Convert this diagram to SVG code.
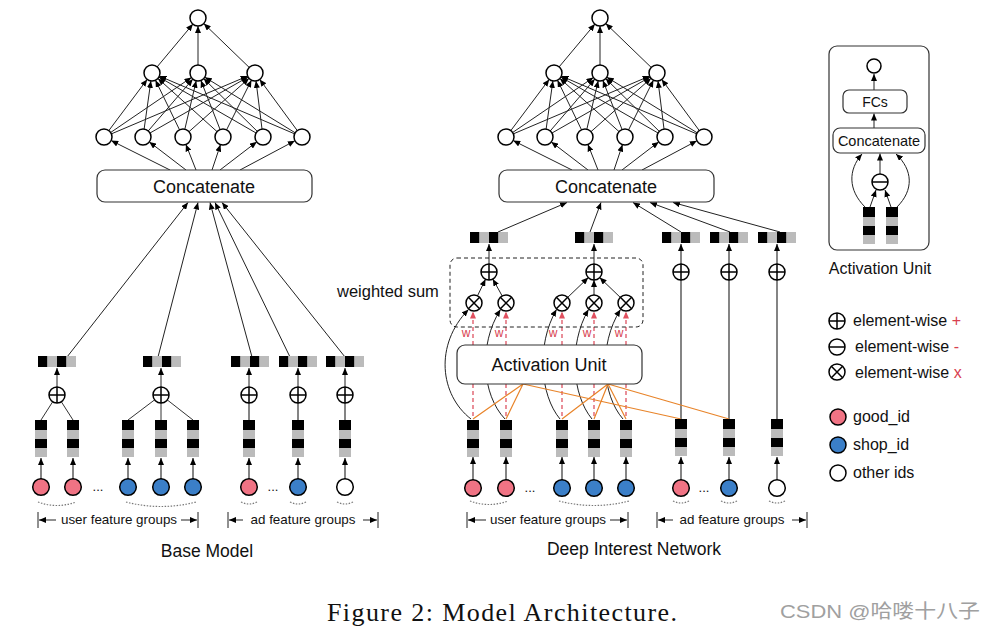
<svg xmlns="http://www.w3.org/2000/svg" xmlns:xlink="http://www.w3.org/1999/xlink" width="995" height="631" viewBox="0 0 995 631">
<style>
text{font-family:"Liberation Sans",Arial,sans-serif;fill:#111}
.n{fill:#fff;stroke:#000;stroke-width:1.5}
.op{stroke:#000;stroke-width:1.5;fill:none}
.e{stroke:#222;stroke-width:1;fill:none;marker-end:url(#a)}
.eg{stroke:#666;stroke-width:1.6;fill:none}
.ega{stroke:#666;stroke-width:1.6;fill:none;marker-end:url(#a)}
.box{fill:#fff;stroke:#333;stroke-width:1.2}
.red{stroke:#e0606e;stroke-width:1.4;stroke-dasharray:4 3;fill:none}
.redA{stroke:#e0606e;stroke-width:1.4;stroke-dasharray:4 3;fill:none;marker-end:url(#ar)}
.or{stroke:#e8842a;stroke-width:1.2;fill:none}
.dot{stroke:#777;stroke-width:1.2;stroke-dasharray:1.5 1.5;fill:none}
.pk{fill:#f07384;stroke:#000;stroke-width:1.5}
.bl{fill:#3b7fc8;stroke:#000;stroke-width:1.5}
.wh{fill:#fff;stroke:#000;stroke-width:1.5}
.brk{stroke:#222;stroke-width:1;fill:none}
.brkA{stroke:#222;stroke-width:1;fill:none;marker-end:url(#a)}
</style>
<defs>
<marker id="a" viewBox="0 0 10 10" refX="10" refY="5" markerWidth="7" markerHeight="6" markerUnits="userSpaceOnUse" orient="auto" preserveAspectRatio="none"><path d="M0,0L10,5L0,10z" fill="#000"/></marker>
<marker id="ar" viewBox="0 0 10 10" refX="10" refY="5" markerWidth="7" markerHeight="6" markerUnits="userSpaceOnUse" orient="auto" preserveAspectRatio="none"><path d="M0,0L10,5L0,10z" fill="#e0505f"/></marker>
<g id="ve"><rect width="12" height="10" fill="#000"/><rect y="10" width="12" height="9" fill="#bbb"/><rect y="19" width="12" height="9" fill="#000"/><rect y="28" width="12" height="9" fill="#bbb"/></g>
<g id="he"><rect width="9.5" height="11" fill="#000"/><rect x="9.5" width="9.5" height="11" fill="#bbb"/><rect x="19" width="9.5" height="11" fill="#000"/><rect x="28.5" width="9.5" height="11" fill="#bbb"/></g>
<g id="plus"><circle r="8" class="n"/><path d="M-8,0H8M0,-8V8" class="op"/></g>
<g id="times"><circle r="8" class="n"/><path d="M-5.66,-5.66L5.66,5.66M5.66,-5.66L-5.66,5.66" class="op"/></g>
<g id="minus"><circle r="8" class="n"/><path d="M-8,0H8" class="op"/></g>
</defs>
<rect width="995" height="631" fill="#fff"/>

<!-- ================= CONNECTORS ================= -->
<g id="connectors">
 <g id="base-mlp-edges">
  <line class="e" x1="104" y1="137" x2="147.2" y2="79.4"/>
  <line class="e" x1="143" y1="137" x2="150.9" y2="80.9"/>
  <line class="e" x1="183" y1="137" x2="155.5" y2="80.2"/>
  <line class="e" x1="223" y1="137" x2="157.9" y2="78.4"/>
  <line class="e" x1="263" y1="137" x2="158.9" y2="77"/>
  <line class="e" x1="302" y1="137" x2="159.4" y2="76.1"/>
  <line class="e" x1="104" y1="137" x2="191.4" y2="77.5"/>
  <line class="e" x1="143" y1="137" x2="192.8" y2="79.1"/>
  <line class="e" x1="183" y1="137" x2="196.2" y2="80.8"/>
  <line class="e" x1="223" y1="137" x2="200.9" y2="80.5"/>
  <line class="e" x1="263" y1="137" x2="203.7" y2="78.6"/>
  <line class="e" x1="302" y1="137" x2="204.8" y2="77.2"/>
  <line class="e" x1="104" y1="137" x2="247.6" y2="76.1"/>
  <line class="e" x1="143" y1="137" x2="248.1" y2="77"/>
  <line class="e" x1="183" y1="137" x2="249" y2="78.3"/>
  <line class="e" x1="223" y1="137" x2="251.4" y2="80.2"/>
  <line class="e" x1="263" y1="137" x2="256" y2="80.9"/>
  <line class="e" x1="302" y1="137" x2="259.7" y2="79.4"/>
  <line class="e" x1="152" y1="73" x2="192.9" y2="24.1"/>
  <line class="e" x1="198" y1="73" x2="198" y2="26"/>
  <line class="e" x1="255" y1="73" x2="203.8" y2="23.6"/>
  <line class="e" x1="170" y1="170" x2="111.2" y2="140.6"/>
  <line class="e" x1="186" y1="170" x2="149.3" y2="141.9"/>
  <line class="e" x1="196" y1="170" x2="185.9" y2="144.4"/>
  <line class="e" x1="212" y1="170" x2="220.5" y2="144.6"/>
  <line class="e" x1="220" y1="170" x2="256.7" y2="141.9"/>
  <line class="e" x1="240" y1="170" x2="294.9" y2="140.8"/>
 </g>
 <g id="din-mlp-edges" transform="translate(402,0)">
  <line class="e" x1="104" y1="137" x2="147.2" y2="79.4"/>
  <line class="e" x1="143" y1="137" x2="150.9" y2="80.9"/>
  <line class="e" x1="183" y1="137" x2="155.5" y2="80.2"/>
  <line class="e" x1="223" y1="137" x2="157.9" y2="78.4"/>
  <line class="e" x1="263" y1="137" x2="158.9" y2="77"/>
  <line class="e" x1="302" y1="137" x2="159.4" y2="76.1"/>
  <line class="e" x1="104" y1="137" x2="191.4" y2="77.5"/>
  <line class="e" x1="143" y1="137" x2="192.8" y2="79.1"/>
  <line class="e" x1="183" y1="137" x2="196.2" y2="80.8"/>
  <line class="e" x1="223" y1="137" x2="200.9" y2="80.5"/>
  <line class="e" x1="263" y1="137" x2="203.7" y2="78.6"/>
  <line class="e" x1="302" y1="137" x2="204.8" y2="77.2"/>
  <line class="e" x1="104" y1="137" x2="247.6" y2="76.1"/>
  <line class="e" x1="143" y1="137" x2="248.1" y2="77"/>
  <line class="e" x1="183" y1="137" x2="249" y2="78.3"/>
  <line class="e" x1="223" y1="137" x2="251.4" y2="80.2"/>
  <line class="e" x1="263" y1="137" x2="256" y2="80.9"/>
  <line class="e" x1="302" y1="137" x2="259.7" y2="79.4"/>
  <line class="e" x1="152" y1="73" x2="192.9" y2="24.1"/>
  <line class="e" x1="198" y1="73" x2="198" y2="26"/>
  <line class="e" x1="255" y1="73" x2="203.8" y2="23.6"/>
  <line class="e" x1="170" y1="170" x2="111.2" y2="140.6"/>
  <line class="e" x1="186" y1="170" x2="149.3" y2="141.9"/>
  <line class="e" x1="196" y1="170" x2="185.9" y2="144.4"/>
  <line class="e" x1="212" y1="170" x2="220.5" y2="144.6"/>
  <line class="e" x1="220" y1="170" x2="256.7" y2="141.9"/>
  <line class="e" x1="240" y1="170" x2="294.9" y2="140.8"/>
 </g>
 <g id="base-lower-edges">
  <line class="e" x1="67" y1="357" x2="188" y2="202.5"/>
  <line class="e" x1="158" y1="357" x2="198" y2="202.5"/>
  <line class="e" x1="252" y1="357" x2="210" y2="202.5"/>
  <line class="e" x1="290" y1="357" x2="215" y2="202.5"/>
  <line class="e" x1="345" y1="357" x2="222" y2="202.5"/>
  <line class="e" x1="57" y1="387" x2="57" y2="368"/>
  <line class="e" x1="161" y1="387" x2="161" y2="368"/>
  <line class="e" x1="249" y1="387" x2="249" y2="368"/>
  <line class="e" x1="298" y1="387" x2="298" y2="368"/>
  <line class="e" x1="345" y1="387" x2="345" y2="368"/>
  <path class="brk" d="M57,395L41,420M57,395L73,420M161,395L128,420M161,395L161,420M161,395L193,420" style="stroke:#333"/>
  <path class="eg" d="M249,395V420M298,395V420M345,395V420"/>
  <line class="ega" x1="41" y1="479" x2="41" y2="458"/>
  <line class="ega" x1="73" y1="479" x2="73" y2="458"/>
  <line class="ega" x1="128" y1="479" x2="128" y2="458"/>
  <line class="ega" x1="161" y1="479" x2="161" y2="458"/>
  <line class="ega" x1="193" y1="479" x2="193" y2="458"/>
  <line class="ega" x1="249" y1="479" x2="249" y2="458"/>
  <line class="ega" x1="298" y1="479" x2="298" y2="458"/>
  <line class="ega" x1="345" y1="479" x2="345" y2="458"/>
 </g>
 <g id="din-lower-edges">
  <line class="e" x1="498" y1="232" x2="567" y2="202.5"/>
  <line class="e" x1="590" y1="232" x2="601" y2="202.5"/>
  <line class="e" x1="681" y1="232" x2="633" y2="202.5"/>
  <line class="e" x1="730" y1="232" x2="650" y2="202.5"/>
  <line class="e" x1="780" y1="232" x2="673" y2="202.5"/>
  <line class="e" x1="489" y1="264" x2="489" y2="244"/>
  <line class="e" x1="594" y1="264" x2="594" y2="244"/>
  <line class="ega" x1="681" y1="419" x2="681" y2="244"/>
  <line class="ega" x1="729" y1="419" x2="729" y2="244"/>
  <line class="ega" x1="777" y1="419" x2="777" y2="244"/>
  <line class="e" x1="477.5" y1="295.8" x2="485.5" y2="279.2"/>
  <line class="e" x1="502.2" y1="296" x2="492.8" y2="279"/>
  <line class="e" x1="567.7" y1="297.4" x2="588.3" y2="277.6"/>
  <line class="e" x1="594" y1="295" x2="594" y2="280"/>
  <line class="e" x1="620.3" y1="297.4" x2="599.7" y2="277.6"/>
  <path class="e" d="M471,419C440,395 434,345 468.5,309.5"/>
  <path class="e" d="M505,419C482,395 478,345 500.5,309.5"/>
  <path class="e" d="M560,419C540,395 536,345 556.5,309.5"/>
  <path class="e" d="M592,419C572,395 568,345 588.5,309.5"/>
  <path class="e" d="M623,419C602,395 598,345 620.5,309.5"/>
  <line class="redA" x1="473" y1="345" x2="473" y2="311.5"/>
  <line class="redA" x1="506" y1="345" x2="506" y2="311.5"/>
  <line class="redA" x1="562" y1="345" x2="562" y2="311.5"/>
  <line class="redA" x1="594" y1="345" x2="594" y2="311.5"/>
  <line class="redA" x1="626" y1="345" x2="626" y2="311.5"/>
  <path class="red" d="M473,384V419M506,384V419M562,384V419M594,384V419M626,384V419"/>
  <path class="or" d="M523,384L473,419M523,384L506,419M523,384L681,419M608,384L562,419M608,384L594,419M608,384L626,419M608,384L729,419"/>
  <line class="ega" x1="473" y1="480" x2="473" y2="457"/>
  <line class="ega" x1="506" y1="480" x2="506" y2="457"/>
  <line class="ega" x1="562" y1="480" x2="562" y2="457"/>
  <line class="ega" x1="594" y1="480" x2="594" y2="457"/>
  <line class="ega" x1="626" y1="480" x2="626" y2="457"/>
  <line class="ega" x1="681" y1="480" x2="681" y2="457"/>
  <line class="ega" x1="729" y1="480" x2="729" y2="457"/>
  <line class="ega" x1="777" y1="480" x2="777" y2="457"/>
 </g>
 <g id="au-edges">
  <line class="e" x1="874" y1="90" x2="874" y2="74"/>
  <line class="e" x1="874" y1="128" x2="874" y2="113.5"/>
  <line class="e" x1="880" y1="174" x2="880" y2="153.5"/>
  <line class="e" x1="870" y1="207" x2="876" y2="190"/>
  <line class="e" x1="891" y1="207" x2="885" y2="190"/>
  <path class="e" d="M865,207C848,190 848,170 862,154"/>
  <path class="e" d="M897,207C914,190 913,170 896,154"/>
 </g>
 <g id="brackets">
  <path class="brk" d="M38,512V528M198,512V528M228,512V528M378,512V528M467,512V528M628,512V528M657,512V528M807,512V528"/>
  <line class="brkA" x1="56" y1="520" x2="39" y2="520"/>
  <line class="brkA" x1="181" y1="520" x2="197" y2="520"/>
  <line class="brkA" x1="243" y1="520" x2="229" y2="520"/>
  <line class="brkA" x1="363" y1="520" x2="377" y2="520"/>
  <line class="brkA" x1="486" y1="520" x2="468" y2="520"/>
  <line class="brkA" x1="610" y1="520" x2="627" y2="520"/>
  <line class="brkA" x1="673" y1="520" x2="658" y2="520"/>
  <line class="brkA" x1="792" y1="520" x2="806" y2="520"/>
 </g>
 <g id="dotted-arcs">
  <path class="dot" d="M38,502Q57,509 76,502"/>
  <path class="dot" d="M126,502Q161,511 196,502"/>
  <path class="dot" d="M241,502Q249,506 257,502"/>
  <path class="dot" d="M290,502Q298,506 306,502"/>
  <path class="dot" d="M337,502Q345,506 353,502"/>
  <path class="dot" d="M470,501Q489,508 508,501"/>
  <path class="dot" d="M559,501Q594,510 629,501"/>
  <path class="dot" d="M673,501Q681,505 689,501"/>
  <path class="dot" d="M721,501Q729,505 737,501"/>
  <path class="dot" d="M769,501Q777,505 785,501"/>
 </g>
</g>

<!-- ================= BASE MODEL NODES ================= -->
<g id="base-model">
 <g id="base-mlp">
  <circle class="n" cx="198" cy="18" r="8"/>
  <circle class="n" cx="152" cy="73" r="8"/>
  <circle class="n" cx="198" cy="73" r="8"/>
  <circle class="n" cx="255" cy="73" r="8"/>
  <circle class="n" cx="104" cy="137" r="8"/>
  <circle class="n" cx="143" cy="137" r="8"/>
  <circle class="n" cx="183" cy="137" r="8"/>
  <circle class="n" cx="223" cy="137" r="8"/>
  <circle class="n" cx="263" cy="137" r="8"/>
  <circle class="n" cx="302" cy="137" r="8"/>
 </g>
 <g id="base-concat"><rect class="box" x="97" y="170" width="215" height="32" rx="8"/><text x="204" y="193" font-size="18" text-anchor="middle">Concatenate</text></g>
 <g id="base-pooled">
  <use href="#he" x="38" y="356"/><use href="#he" x="143" y="356"/><use href="#he" x="231" y="356"/><use href="#he" x="279" y="356"/><use href="#he" x="326" y="356"/>
 </g>
 <g id="base-sum">
  <use href="#plus" x="57" y="395"/><use href="#plus" x="161" y="395"/><use href="#plus" x="249" y="395"/><use href="#plus" x="298" y="395"/><use href="#plus" x="345" y="395"/>
 </g>
 <g id="base-emb">
  <use href="#ve" x="35" y="420"/><use href="#ve" x="67" y="420"/><use href="#ve" x="122" y="420"/><use href="#ve" x="155" y="420"/><use href="#ve" x="187" y="420"/><use href="#ve" x="243" y="420"/><use href="#ve" x="292" y="420"/><use href="#ve" x="339" y="420"/>
 </g>
 <g id="base-ids">
  <circle class="pk" cx="41" cy="487" r="8.3"/><circle class="pk" cx="73" cy="487" r="8.3"/>
  <circle class="bl" cx="128" cy="487" r="8.3"/><circle class="bl" cx="161" cy="487" r="8.3"/><circle class="bl" cx="193" cy="487" r="8.3"/>
  <circle class="pk" cx="249" cy="487" r="8.3"/><circle class="bl" cx="298" cy="487" r="8.3"/><circle class="wh" cx="345" cy="487" r="8.3"/>
  <text x="98" y="491" font-size="13" text-anchor="middle">...</text>
  <text x="273" y="491" font-size="13" text-anchor="middle">...</text>
 </g>
 <text x="119" y="524" font-size="13.4" text-anchor="middle">user feature groups</text>
 <text x="303" y="524" font-size="13.4" text-anchor="middle">ad feature groups</text>
 <text x="207" y="557" font-size="17.5" text-anchor="middle">Base Model</text>
</g>

<!-- ================= DIN NODES ================= -->
<g id="din-model">
 <g id="din-mlp" transform="translate(402,0)">
  <circle class="n" cx="198" cy="18" r="8"/>
  <circle class="n" cx="152" cy="73" r="8"/>
  <circle class="n" cx="198" cy="73" r="8"/>
  <circle class="n" cx="255" cy="73" r="8"/>
  <circle class="n" cx="104" cy="137" r="8"/>
  <circle class="n" cx="143" cy="137" r="8"/>
  <circle class="n" cx="183" cy="137" r="8"/>
  <circle class="n" cx="223" cy="137" r="8"/>
  <circle class="n" cx="263" cy="137" r="8"/>
  <circle class="n" cx="302" cy="137" r="8"/>
 </g>
 <g id="din-concat"><rect class="box" x="499" y="170" width="215" height="32" rx="8"/><text x="606" y="193" font-size="18" text-anchor="middle">Concatenate</text></g>
 <g id="din-pooled">
  <use href="#he" x="470" y="232"/><use href="#he" x="575" y="232"/><use href="#he" x="662" y="232"/><use href="#he" x="710" y="232"/><use href="#he" x="758" y="232"/>
 </g>
 <g id="weighted-sum">
  <rect x="450" y="258" width="193" height="69" rx="7" fill="none" stroke="#222" stroke-width="1" stroke-dasharray="4 3"/>
  <text x="337" y="297" font-size="16.5">weighted sum</text>
 </g>
 <g id="din-sum">
  <use href="#plus" x="489" y="272"/><use href="#plus" x="594" y="272"/><use href="#plus" x="681" y="272"/><use href="#plus" x="729" y="272"/><use href="#plus" x="777" y="272"/>
 </g>
 <g id="din-times">
  <use href="#times" x="474" y="303"/><use href="#times" x="506" y="303"/><use href="#times" x="562" y="303"/><use href="#times" x="594" y="303"/><use href="#times" x="626" y="303"/>
 </g>
 <g id="w-labels" font-size="12">
  <text x="466" y="337" text-anchor="middle" style="fill:#d8404f">w</text>
  <text x="499" y="337" text-anchor="middle" style="fill:#d8404f">w</text>
  <text x="553" y="337" text-anchor="middle" style="fill:#d8404f">w</text>
  <text x="587" y="337" text-anchor="middle" style="fill:#d8404f">w</text>
  <text x="619" y="337" text-anchor="middle" style="fill:#d8404f">w</text>
 </g>
 <g id="din-activation-unit"><rect class="box" x="457" y="345" width="185" height="39" rx="8"/><text x="549" y="371" font-size="18" text-anchor="middle">Activation Unit</text></g>
 <g id="din-emb">
  <use href="#ve" x="467" y="420"/><use href="#ve" x="500" y="420"/><use href="#ve" x="556" y="420"/><use href="#ve" x="588" y="420"/><use href="#ve" x="620" y="420"/><use href="#ve" x="675" y="419"/><use href="#ve" x="723" y="419"/><use href="#ve" x="771" y="419"/>
 </g>
 <g id="din-ids">
  <circle class="pk" cx="473" cy="488" r="8.3"/><circle class="pk" cx="506" cy="488" r="8.3"/>
  <circle class="bl" cx="562" cy="488" r="8.3"/><circle class="bl" cx="594" cy="488" r="8.3"/><circle class="bl" cx="626" cy="488" r="8.3"/>
  <circle class="pk" cx="681" cy="488" r="8.3"/><circle class="bl" cx="729" cy="488" r="8.3"/><circle class="wh" cx="777" cy="488" r="8.3"/>
  <text x="530" y="492" font-size="13" text-anchor="middle">...</text>
  <text x="704" y="492" font-size="13" text-anchor="middle">...</text>
 </g>
 <text x="548" y="524" font-size="13.4" text-anchor="middle">user feature groups</text>
 <text x="732" y="524" font-size="13.4" text-anchor="middle">ad feature groups</text>
 <text x="634" y="555" font-size="17.5" text-anchor="middle">Deep Interest Network</text>
</g>

<!-- ================= ACTIVATION UNIT DETAIL ================= -->
<g id="activation-unit">
 <rect x="829" y="46" width="100" height="204" rx="8" fill="none" stroke="#333" stroke-width="1.2"/>
 <circle class="n" cx="874" cy="66" r="7"/>
 <g id="au-fcs"><rect class="box" x="843" y="90" width="64" height="23" rx="6"/><text x="875" y="107" font-size="14" text-anchor="middle">FCs</text></g>
 <g id="au-concat"><rect class="box" x="833" y="128" width="92" height="25" rx="7"/><text x="879" y="146" font-size="14.5" text-anchor="middle">Concatenate</text></g>
 <use href="#minus" x="880" y="182"/>
 <use href="#ve" x="863" y="207"/><use href="#ve" x="886" y="207"/>
 <text x="880" y="274" font-size="16" text-anchor="middle">Activation Unit</text>
</g>

<!-- ================= LEGEND ================= -->
<g id="legend" font-size="16">
 <use href="#plus" x="837" y="321"/>
 <text x="853" y="326">element-wise <tspan style="fill:#d8404f">+</tspan></text>
 <use href="#minus" x="837" y="347"/>
 <text x="855" y="352">element-wise <tspan style="fill:#d8404f">-</tspan></text>
 <use href="#times" x="837" y="372"/>
 <text x="855" y="378">element-wise <tspan style="fill:#d8404f">x</tspan></text>
 <circle class="pk" cx="838" cy="417" r="8"/><text x="853" y="422">good_id</text>
 <circle class="bl" cx="838" cy="445" r="8"/><text x="853" y="450">shop_id</text>
 <circle class="wh" cx="838" cy="473" r="8"/><text x="853" y="478">other ids</text>
</g>

<text x="327" y="621" font-size="26" textLength="350" lengthAdjust="spacing" style="font-family:'Liberation Serif','Times New Roman',serif">Figure 2: Model Architecture.</text>
<text x="780" y="618" font-size="19" textLength="200" lengthAdjust="spacingAndGlyphs" style="fill:#a0a0a0;font-family:'Liberation Sans','Noto Sans CJK SC',sans-serif">CSDN @哈喽十八子</text>
</svg>
